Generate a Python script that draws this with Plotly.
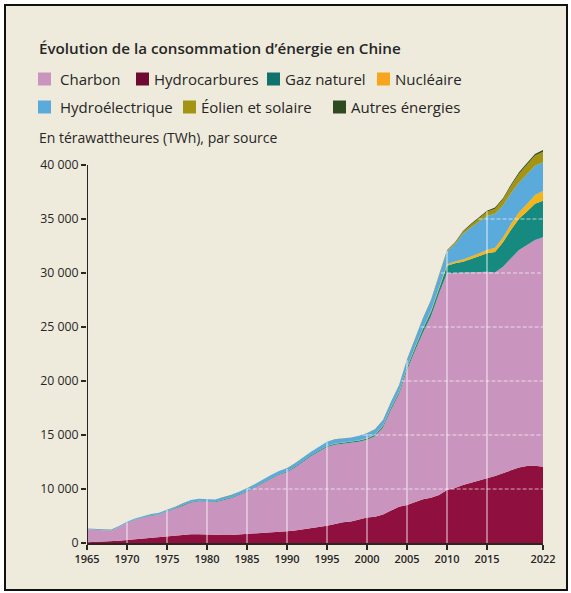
import plotly.graph_objects as go

# ---------------- data (TWh) ----------------
years = list(range(1965, 2023))

hydrocarbures = [80, 100, 110, 130, 200, 280, 350, 420, 480, 540,
                 590, 650, 720, 800, 800, 760, 730, 730, 750, 790,
                 830, 870, 920, 980, 1040, 1080, 1160, 1260, 1380, 1450,
                 1600, 1750, 1920, 2000, 2150, 2350, 2420, 2650, 3000, 3350,
                 3520, 3800, 4050, 4200, 4450, 4910, 5100, 5370, 5600, 5800,
                 5990, 6200, 6450, 6760, 7000, 7130, 7150, 7070]

charbon = [1190, 1135, 1035, 1000, 1275, 1570, 1795, 1930, 2050, 2090,
           2340, 2515, 2740, 2950, 3055, 3080, 3040, 3225, 3405, 3660,
           3920, 4270, 4640, 4975, 5270, 5460, 5840, 6280, 6650, 7020,
           7295, 7350, 7255, 7235, 7220, 7200, 7455, 8050, 9345, 10415,
           12480, 14000, 15450, 16800, 18650, 20060, 19900, 19630, 19450, 19300,
           19130, 18850, 19140, 19600, 20130, 20470, 20910, 21230]

gaz_naturel = [10, 10, 10, 12, 15, 20, 25, 30, 33, 36,
               40, 45, 50, 60, 65, 70, 68, 65, 65, 68,
               70, 72, 74, 75, 78, 80, 82, 84, 86, 88,
               90, 95, 100, 110, 120, 130, 140, 150, 170, 200,
               230, 280, 350, 420, 480, 700, 900, 1050, 1250, 1450,
               1700, 1900, 2250, 2650, 2900, 3100, 3350, 3400]

nucleaire = [0] * 28 + [10, 15, 20, 20, 20, 20, 25, 40, 45, 50, 50, 60,
                        70, 80, 90, 100, 110, 150, 170, 190, 220, 260,
                        300, 380, 450, 520, 600, 700, 820, 900]

hydroelectrique = [60, 65, 65, 70, 80, 90, 100, 110, 120, 130,
                   140, 140, 150, 160, 170, 180, 190, 200, 210, 220,
                   230, 240, 250, 260, 270, 280, 290, 300, 320, 340,
                   360, 370, 380, 400, 410, 420, 450, 470, 500, 550,
                   650, 750, 850, 950, 1000, 1150, 1600, 2400, 2700, 2900,
                   3150, 3150, 2950, 2850, 2750, 2750, 2700, 2650]

eolien_solaire = [0] * 40 + [5, 5, 8, 20, 40, 80, 120, 180, 250, 320,
                             400, 480, 580, 700, 820, 900, 950, 980]

autres = [10] * 30 + [15, 15, 15, 15, 15, 20, 20, 20, 25, 25,
                      30, 35, 35, 40, 50, 60, 60, 70, 80, 90,
                      100, 100, 110, 120, 130, 140, 150, 150]

series_names = ["Hydrocarbures", "Charbon", "Gaz naturel", "Nucléaire",
                "Hydroélectrique", "Éolien et solaire", "Autres énergies"]
series_values = [hydrocarbures, charbon, gaz_naturel, nucleaire,
                 hydroelectrique, eolien_solaire, autres]

x_tickvals = [1965, 1970, 1975, 1980, 1985, 1990, 1995, 2000, 2005, 2010, 2015, 2022]
y_tickvals = [0, 5000, 10000, 15000, 20000, 25000, 30000, 35000]
y_ticktext = ["0", "10 000", "15 000", "20 000", "25 000", "30 000", "35 000", "40 000"]
grid_years = [1970, 1975, 1980, 1985, 1990, 1995, 2000, 2005, 2010, 2015]
grid_levels = [5000, 10000, 15000, 20000, 25000, 30000]

# ---------------- styles ----------------
colors = {
    "Charbon": "#c994bd",
    "Hydrocarbures": "#8f0f3e",
    "Gaz naturel": "#178a80",
    "Nucléaire": "#f4b41a",
    "Hydroélectrique": "#5aaadc",
    "Éolien et solaire": "#a39414",
    "Autres énergies": "#2f4a20",
}
legend_colors = dict(colors)
legend_colors["Hydrocarbures"] = "#6e0a32"
legend_colors["Gaz naturel"] = "#0f726c"
legend_colors["Nucléaire"] = "#f7a51c"

BG = "#efebdc"
TXT = "#262626"
FONT = "Open Sans"

W_FIG, H_FIG = 571, 593
ML, MR, MT, MB = 87, 28, 143, 50
PW = W_FIG - ML - MR
PH = H_FIG - MT - MB


def px_x(p):
    return (p - ML) / PW


def px_y(p):
    return (H_FIG - MB - p) / PH


fig = go.Figure()

for name, vals in zip(series_names, series_values):
    fig.add_trace(go.Scatter(
        x=years, y=vals, name=name, mode="lines",
        stackgroup="one", line=dict(width=0, color=colors[name]),
        fillcolor=colors[name], showlegend=False,
    ))

# totals for the white grid lines that only show over the filled area
totals = [sum(v[i] for v in series_values) for i in range(len(years))]

for gy in grid_years:
    i = years.index(gy)
    fig.add_trace(go.Scatter(
        x=[gy, gy], y=[0, totals[i] - 60], mode="lines",
        line=dict(color="rgba(255,255,255,0.7)", width=1.2),
        showlegend=False, hoverinfo="skip",
    ))

for lv in grid_levels:
    xs = None
    for i in range(1, len(years)):
        if totals[i] >= lv and totals[i - 1] < lv:
            xs = years[i - 1] + (lv - totals[i - 1]) / (totals[i] - totals[i - 1])
            break
    if xs is None:
        continue
    fig.add_trace(go.Scatter(
        x=[xs + 0.15, years[-1]], y=[lv, lv], mode="lines",
        line=dict(color="rgba(255,255,255,0.65)", width=1.2, dash="4px,2px"),
        showlegend=False, hoverinfo="skip",
    ))

shapes = [
    # framed cream card
    dict(type="rect", xref="paper", yref="paper",
         x0=px_x(5), x1=px_x(567), y0=px_y(590), y1=px_y(5),
         line=dict(color="#111111", width=2), fillcolor=BG, layer="below"),
    # y axis line (ends at the top tick)
    dict(type="line", xref="x", yref="y", x0=1965, x1=1965, y0=0, y1=y_tickvals[-1],
         line=dict(color="#2b2622", width=2), layer="above"),
]

annotations = [
    dict(text="Évolution de la consommation d’énergie en Chine",
         x=px_x(37), y=px_y(48), xref="paper", yref="paper",
         xanchor="left", yanchor="middle", showarrow=False,
         font=dict(family=FONT, size=15.2, color=TXT, weight=600)),
    dict(text="En térawattheures (TWh), par source",
         x=px_x(37), y=px_y(137), xref="paper", yref="paper",
         xanchor="left", yanchor="middle", showarrow=False,
         font=dict(family=FONT, size=14, color=TXT)),
]

legend_items = [
    ("Charbon", 38, 79), ("Hydrocarbures", 136, 79), ("Gaz naturel", 267, 79),
    ("Nucléaire", 377, 79),
    ("Hydroélectrique", 38, 107), ("Éolien et solaire", 183, 107),
    ("Autres énergies", 333, 107),
]
SQ = 13
for name, lx, cy in legend_items:
    shapes.append(dict(type="rect", xref="paper", yref="paper",
                       x0=px_x(lx), x1=px_x(lx + SQ),
                       y0=px_y(cy + SQ / 2), y1=px_y(cy - SQ / 2),
                       line=dict(width=0), fillcolor=legend_colors[name]))
    gap = 7 if lx == 38 else 3
    annotations.append(dict(text=name, x=px_x(lx + SQ + gap), y=px_y(cy),
                            xref="paper", yref="paper",
                            xanchor="left", yanchor="middle", showarrow=False,
                            font=dict(family=FONT, size=15, color=TXT)))

fig.update_layout(
    width=W_FIG, height=H_FIG,
    margin=dict(l=ML, r=MR, t=MT, b=MB),
    paper_bgcolor="white", plot_bgcolor="rgba(0,0,0,0)",
    showlegend=False,
    shapes=shapes, annotations=annotations,
    xaxis=dict(range=[1965, 2022], tickvals=x_tickvals,
               showgrid=False, zeroline=False,
               showline=True, linecolor="#2b2622", linewidth=2,
               ticks="outside", ticklen=5, tickwidth=1.5, tickcolor="#2b2622",
               tickfont=dict(family=FONT, size=11, color=TXT, weight=600)),
    yaxis=dict(range=[0, PH / (54 / 5000)], tickvals=y_tickvals, ticktext=y_ticktext,
               showgrid=False, zeroline=False, showline=False,
               ticks="outside", ticklen=5, tickwidth=1.5, tickcolor="#2b2622",
               tickfont=dict(family=FONT, size=12.3, color=TXT)),
)

fig.write_html("out.html",
               config={"displayModeBar": False},
               post_script="document.body.style.margin='0px';"
                           "document.body.style.padding='0px';"
                           "document.body.style.overflow='hidden';")
